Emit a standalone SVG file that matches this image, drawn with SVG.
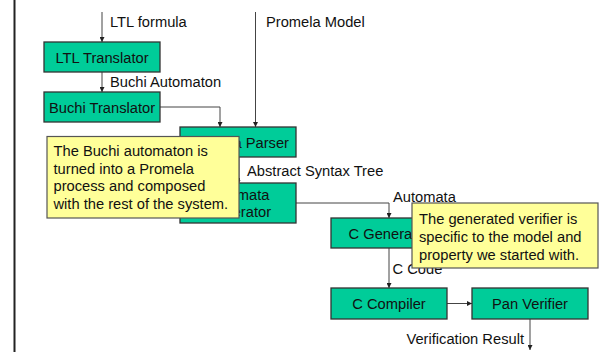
<svg xmlns="http://www.w3.org/2000/svg" width="600" height="352" viewBox="0 0 600 352">
<defs>
<marker id="ah" viewBox="0 0 8 8" refX="8" refY="4" markerWidth="5" markerHeight="5" orient="auto" markerUnits="userSpaceOnUse"><path d="M0,0 L8,4 L0,8 z" fill="#222"/></marker>
<style>
text{font-family:"Liberation Sans",Arial,sans-serif;font-size:14.7px;fill:#111}
.box{fill:#00CC99;stroke:#333;stroke-width:1.3}
.note{fill:#FFFF99;stroke:#555;stroke-width:1.2}
.c{text-anchor:middle}
.edge{fill:none;stroke:#444;stroke-width:1;marker-end:url(#ah)}
.lbl{fill:#fff}
</style>
</defs>
<rect width="600" height="352" fill="#fff"/>
<line x1="14.5" y1="0" x2="14.5" y2="352" stroke="#222" stroke-width="2"/>
<g id="connectors">
<path class="edge" d="M102,12 V42"/>
<path class="edge" d="M102,72 V92"/>
<path class="edge" d="M160,107 H220 V127"/>
<path class="edge" d="M255.5,12 V127"/>
<path class="edge" d="M239,157 V183"/>
<path class="edge" d="M296,203 H389 V218"/>
<path class="edge" d="M389,248 V288"/>
<path class="edge" d="M447,303.5 H472"/>
<path class="edge" d="M530,319 V350"/>
</g>
<g id="labels">
<text x="110" y="26.5">LTL formula</text>
<text x="110" y="86.5">Buchi Automaton</text>
<text x="266" y="26.5">Promela Model</text>
<rect class="lbl" x="240" y="163" width="148" height="17"/>
<text x="247" y="176">Abstract Syntax Tree</text>
<text x="393" y="201.5">Automata</text>
<text x="392.5" y="273.5">C Code</text>
<text x="524" y="344" text-anchor="end">Verification Result</text>
</g>
<g id="ltl-translator"><rect class="box" x="44" y="42" width="116" height="30"/><text class="c" x="102" y="62.5">LTL Translator</text></g>
<g id="buchi-translator"><rect class="box" x="44" y="92" width="116" height="30"/><text class="c" x="102" y="112.5">Buchi Translator</text></g>
<g id="promela-parser"><rect class="box" x="180" y="127" width="116" height="30"/><text class="c" x="238" y="147.5">Promela Parser</text></g>
<g id="automata-generator"><rect class="box" x="180" y="183" width="116" height="40"/><text class="c" x="238" y="199.5">Automata</text><text class="c" x="238" y="217">Generator</text></g>
<g id="c-generator"><rect class="box" x="331" y="218" width="116" height="30"/><text class="c" x="389" y="238.5">C Generator</text></g>
<g id="c-compiler"><rect class="box" x="331" y="288" width="116" height="31"/><text class="c" x="389" y="309">C Compiler</text></g>
<g id="pan-verifier"><rect class="box" x="472" y="288" width="116" height="31"/><text class="c" x="530" y="309">Pan Verifier</text></g>
<g id="note-buchi"><rect class="note" x="47" y="136.5" width="192" height="81.5"/>
<text x="53.5" y="156">The Buchi automaton is</text>
<text x="53.5" y="173.7">turned into a Promela</text>
<text x="53.5" y="191.4">process and composed</text>
<text x="53.5" y="209">with the rest of the system.</text></g>
<g id="note-verifier"><rect class="note" x="412" y="203" width="186" height="65"/>
<text x="419" y="224.3">The generated verifier is</text>
<text x="419" y="242.1">specific to the model and</text>
<text x="419" y="259.8">property we started with.</text></g>
</svg>
